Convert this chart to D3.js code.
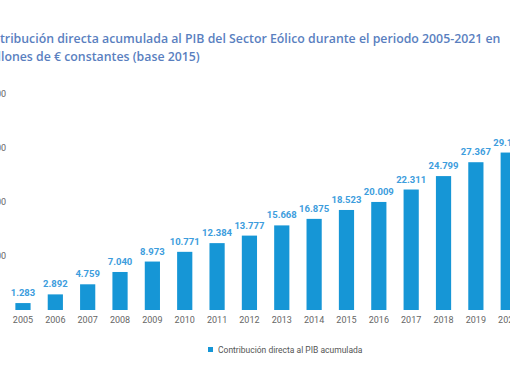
<!DOCTYPE html>
<html>
<head>
<meta charset="utf-8">
<script src="https://cdn.jsdelivr.net/npm/d3@7"></script>
<style>
  body { margin: 0; background: #fff; }
  svg { display: block; font-family: Roboto, "Noto Sans", sans-serif; }
</style>
</head>
<body>
<svg width="510" height="382"></svg>
<script>
// Data
const years = ["2005", "2006", "2007", "2008", "2009", "2010", "2011", "2012",
               "2013", "2014", "2015", "2016", "2017", "2018", "2019", "2020"];
const values = [1283, 2892, 4759, 7040, 8973, 10771, 12384, 13777,
                15668, 16875, 18523, 20009, 22311, 24799, 27367, 29158];
const yTicks = [0, 10000, 20000, 30000, 40000];
const titleLines = [
    "Contribución directa acumulada al PIB del Sector Eólico durante el periodo 2005-2021 en",
    "millones de € constantes (base 2015)"
];
const seriesName = "Contribución directa al PIB acumulada";

const barColor = "#1696d6";
const labelColor = "#3d9ddd";

const svg = d3.select("svg");
const fmt = d => d3.format(",")(d).replace(/,/g, ".");

// Scales
const x = d3.scaleBand()
    .domain(years)
    .range([6.8, 524.4])
    .paddingInner(0.53)
    .paddingOuter(0.265);

const y = d3.scaleLinear()
    .domain([0, 40000])
    .range([310, 94]);

// Title (the left part is cut off in the original image)
const title = svg.append("g");
const t1 = title.append("text")
    .attr("y", 43)
    .attr("fill", "#5a7fbf")
    .attr("font-family", "'Open Sans', sans-serif")
    .attr("font-weight", 600)
    .attr("font-size", 13)
    .text(titleLines[0]);
// fit so "tribución ... en" spans x=0..501
const probe = title.append("text").attr("font-family", "'Open Sans', sans-serif")
    .attr("font-weight", 600).attr("font-size", 13);
const full = t1.node().getComputedTextLength();
probe.text("Con");
const pre = probe.node().getComputedTextLength();
probe.text("mil");
const pre2 = probe.node().getComputedTextLength();
probe.remove();
const s = 501 / (full - pre);
t1.attr("font-size", 13 * s).attr("x", -pre * s);
title.append("text")
    .attr("x", -pre2 * s + 1)
    .attr("y", 61)
    .attr("fill", "#5a7fbf")
    .attr("font-family", "'Open Sans', sans-serif")
    .attr("font-weight", 600)
    .attr("font-size", 13 * s)
    .text(titleLines[1]);

// Y axis labels (mostly cut off)
svg.append("g")
    .selectAll("text")
    .data(yTicks.slice(1))
    .enter().append("text")
    .attr("x", 6)
    .attr("y", d => y(d) + 3)
    .attr("text-anchor", "end")
    .attr("font-size", 9)
    .attr("fill", "#666")
    .text(d => fmt(d));

// Bars
svg.append("g")
    .selectAll("rect")
    .data(values)
    .enter().append("rect")
    .attr("x", (d, i) => x(years[i]))
    .attr("y", d => y(d))
    .attr("width", x.bandwidth())
    .attr("height", d => y(0) - y(d))
    .attr("fill", barColor);

// Value labels
svg.append("g")
    .selectAll("text")
    .data(values)
    .enter().append("text")
    .attr("x", (d, i) => x(years[i]) + x.bandwidth() / 2)
    .attr("y", d => y(d) - 7)
    .attr("text-anchor", "middle")
    .attr("font-size", 9.5)
    .attr("font-weight", "bold")
    .attr("fill", labelColor)
    .text(d => fmt(d));

// Year labels
svg.append("g")
    .selectAll("text")
    .data(years)
    .enter().append("text")
    .attr("x", d => x(d) + x.bandwidth() / 2)
    .attr("y", 323)
    .attr("text-anchor", "middle")
    .attr("font-size", 9)
    .attr("fill", "#666")
    .text(d => d);

// Legend
const legend = svg.append("g").attr("transform", "translate(208,347)");
legend.append("rect")
    .attr("width", 5).attr("height", 5)
    .attr("fill", barColor);
legend.append("text")
    .attr("x", 10)
    .attr("y", 5.5)
    .attr("font-size", 8.5)
    .attr("fill", "#555")
    .text(seriesName);
</script>
</body>
</html>
